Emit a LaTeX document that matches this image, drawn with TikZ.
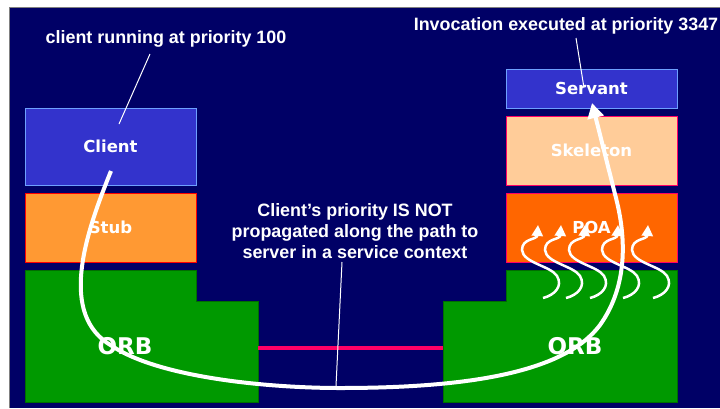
\documentclass[tikz,border=0pt]{standalone}
\usepackage{fontspec}
\setmainfont{Liberation Sans}
\newfontfamily\boxfont{DejaVu Sans}
\usetikzlibrary{arrows.meta}

\definecolor{navy}{RGB}{0,0,102}
\definecolor{objblue}{RGB}{51,51,204}
\definecolor{objedge}{RGB}{110,160,255}
\definecolor{stubfill}{RGB}{255,153,51}
\definecolor{skelfill}{RGB}{255,204,153}
\definecolor{poafill}{RGB}{255,102,0}
\definecolor{pinkedge}{RGB}{255,0,102}
\definecolor{orbfill}{RGB}{0,153,0}
\definecolor{orbedge}{RGB}{0,110,0}

\tikzset{
  layer/.style={minimum width=171pt, inner sep=0pt, line width=1pt, text=white,
                font=\boxfont\bfseries\fontsize{16.5}{19}\selectfont},
  objbox/.style={layer, fill=objblue, draw=objedge},
  stubbox/.style={layer, fill=stubfill, draw=red},
  skelbox/.style={layer, fill=skelfill, draw=pinkedge},
  poabox/.style={layer, fill=poafill, draw=pinkedge},
  orb/.style={fill=orbfill, draw=orbedge, line width=1pt},
  orbtext/.style={text=white, inner sep=0pt, font=\boxfont\bfseries\fontsize{23}{26}\selectfont},
  note/.style={text=white, inner sep=0pt, font=\bfseries\fontsize{17.9}{21}\selectfont},
  leader/.style={white, line width=1pt},
  link/.style={pinkedge, line width=3.8pt},
  flow/.style={white, line width=4pt, -{Triangle[width=16pt,length=15pt]}},
  wavy/.style={white, line width=2.5pt, -{Triangle[width=11pt,length=11pt]}}
}

\begin{document}
\begin{tikzpicture}[x=1pt,y=-1pt]
  \useasboundingbox (0,0) rectangle (720,408);
  \fill[white] (0,0) rectangle (720,408);
  \fill[navy] (9,7) rectangle (720,408);
  \draw[gray] (9,408) -- (9,7) -- (720,7);

  % client side
  \node[objbox, minimum height=77pt] (client) at (110.5,146.5) {Client};
  \node[stubbox, minimum height=69pt] (stub) at (110.5,227.5) {Stub};
  \filldraw[orb] (25,270) -- (196,270) -- (196,301) -- (258,301) -- (258,402) -- (25,402) -- cycle;
  \node[orbtext] (orbL) at (125,346) {ORB};

  % server side
  \node[objbox, minimum height=39pt] (servant) at (591.5,88.5) {Servant};
  \node[skelbox, minimum height=69pt] (skeleton) at (591.5,150.5) {Skeleton};
  \node[poabox, minimum height=69pt] (poa) at (591.5,227.5) {POA};
  \filldraw[orb] (443,301) -- (506,301) -- (506,270) -- (677,270) -- (677,402) -- (443,402) -- cycle;
  \node[orbtext] (orbR) at (575,346) {ORB};

  % link between the ORBs
  \coordinate (linkL) at (258,348);
  \coordinate (linkR) at (443,348);
  \draw[link] (linkL) -- (linkR);

  % threads coming up into the POA
  \foreach \tx in {543,566,590,623,653} {
    \begin{scope}[shift={(\tx,298)}]
      \draw[wavy] (0,0) .. controls (12,-3) and (20,-12) .. (14,-22)
                        .. controls (8,-32) and (-20,-35) .. (-21,-48)
                        .. controls (-21,-60) and (-6,-58) .. (-5,-73);
    \end{scope}
  }

  % invocation path
  \coordinate (start) at (111,171);
  \coordinate (servtip) at (592,103);
  \draw[flow] (start) .. controls (85,235) and (58,315) .. (112,346)
              .. controls (160,378) and (270,388) .. (340,388)
              .. controls (470,388) and (565,372) .. (600,325)
              .. controls (625,290) and (628,245) .. (616,198) -- (servtip);

  % labels
  \node[note, anchor=base] (lblclient) at (166,43) {client running at priority 100};
  \node[note, anchor=base] (lblservant) at (566,30) {Invocation executed at priority 3347};
  \node[note, align=center, anchor=north] (note) at (355,203)
    {Client’s priority IS NOT\\propagated along the path to\\server in a service context};

  \coordinate (lead1a) at (150,54);
  \coordinate (lead1b) at (119,124);
  \coordinate (lead2a) at (576,38);
  \coordinate (lead2b) at (584,88);
  \coordinate (lead3a) at (342,262);
  \coordinate (lead3b) at (336,386);
  \draw[leader] (lead1a) -- (lead1b);
  \draw[leader] (lead2a) -- (lead2b);
  \draw[leader] (lead3a) -- (lead3b);
\end{tikzpicture}
\end{document}
